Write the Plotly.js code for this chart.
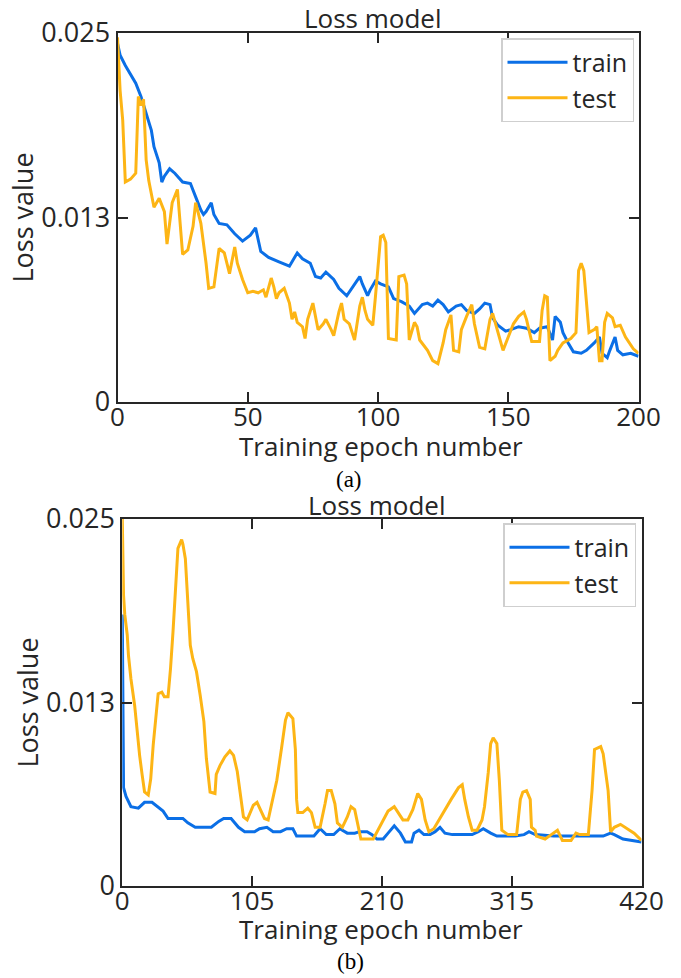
<!DOCTYPE html>
<html>
<head>
<meta charset="utf-8">
<script src="https://cdn.plot.ly/plotly-3.0.1.min.js"></script>
<style>
  html, body { margin: 0; padding: 0; background: #ffffff; }
  #chart { width: 681px; height: 978px; }
</style>
</head>
<body>
<div id="chart"></div>
<script>
// ---- (a) 200-epoch run ----
const epochsTrainA = [0,1,3,5,7,9,11,13,14,16,17,18,20,22,25,28,30,32,33,34,36,37,39,42,45,48,51,53,55,58,62,66,69,71,74,76,78,80,83,85,88,91,93,94,96,97,99,101,104,106,109,112,114,117,119,121,123,125,127,130,132,134,137,139,141,143,144,146,149,151,154,157,160,162,165,167,168,170,171,173,175,178,180,183,185,186,188,189,191,192,194,197,200];
const lossTrainA = [0.0243,0.0235,0.0228,0.0222,0.0216,0.0207,0.0196,0.0184,0.0173,0.0162,0.0149,0.0153,0.0158,0.0155,0.0149,0.0148,0.0139,0.0130,0.0127,0.0129,0.0135,0.0127,0.0121,0.0120,0.0114,0.0109,0.0113,0.0118,0.0102,0.0098,0.0095,0.0092,0.0101,0.0097,0.0094,0.0085,0.0084,0.0088,0.0083,0.0077,0.0072,0.0080,0.0085,0.0080,0.0072,0.0076,0.0082,0.0080,0.0078,0.0070,0.0068,0.0065,0.0060,0.0066,0.0067,0.0065,0.0069,0.0066,0.0061,0.0065,0.0066,0.0062,0.0060,0.0063,0.0067,0.0066,0.0057,0.0052,0.0048,0.0049,0.0051,0.0050,0.0047,0.0050,0.0051,0.0042,0.0058,0.0054,0.0047,0.0040,0.0034,0.0033,0.0035,0.0040,0.0044,0.0033,0.0030,0.0035,0.0044,0.0035,0.0032,0.0033,0.0031];

const epochsTestA = [0,1,2,3,5,7,8,9,10,11,12,14,16,18,19,20,21,23,24,25,27,29,30,32,34,35,37,39,41,42,43,45,46,48,50,52,54,56,57,59,60,61,62,64,66,67,68,69,71,72,73,75,76,77,79,80,82,83,85,86,87,89,91,93,94,95,96,98,99,101,102,103,104,107,108,110,111,112,114,115,116,119,121,123,125,126,128,129,131,132,134,136,137,139,141,143,144,146,148,150,152,154,156,157,158,159,162,163,164,165,166,168,169,171,174,176,177,178,179,181,183,184,185,186,187,188,190,191,193,195,198,200];
const lossTestA = [0.0247,0.0211,0.0191,0.0149,0.0151,0.0155,0.0207,0.0201,0.0205,0.0164,0.0150,0.0132,0.0138,0.0129,0.0107,0.0120,0.0135,0.0144,0.0123,0.0100,0.0103,0.0119,0.0135,0.0121,0.0094,0.0077,0.0078,0.0104,0.0101,0.0094,0.0087,0.0105,0.0094,0.0083,0.0074,0.0075,0.0074,0.0076,0.0071,0.0084,0.0078,0.0070,0.0074,0.0077,0.0067,0.0056,0.0061,0.0054,0.0051,0.0043,0.0056,0.0067,0.0059,0.0049,0.0053,0.0056,0.0049,0.0045,0.0061,0.0067,0.0056,0.0053,0.0042,0.0065,0.0071,0.0062,0.0056,0.0052,0.0071,0.0112,0.0113,0.0108,0.0043,0.0042,0.0085,0.0086,0.0080,0.0042,0.0054,0.0051,0.0042,0.0035,0.0028,0.0026,0.0040,0.0049,0.0059,0.0035,0.0034,0.0049,0.0058,0.0066,0.0053,0.0037,0.0036,0.0056,0.0060,0.0047,0.0035,0.0044,0.0053,0.0058,0.0061,0.0056,0.0049,0.0041,0.0041,0.0062,0.0072,0.0071,0.0028,0.0031,0.0035,0.0040,0.0043,0.0047,0.0089,0.0094,0.0089,0.0047,0.0049,0.0051,0.0028,0.0028,0.0054,0.0060,0.0057,0.0051,0.0052,0.0044,0.0036,0.0033];

// ---- (b) 420-epoch run ----
const epochsTrainB = [0,1,3,7,13,18,24,29,33,37,43,49,53,59,72,78,82,88,94,99,107,111,117,122,128,133,138,141,155,160,165,171,176,182,188,192,198,202,206,211,215,220,225,229,234,236,240,244,249,253,257,261,267,283,288,292,298,303,318,325,329,334,349,377,389,395,398,405,412,420];
const lossTrainB = [0.0185,0.0067,0.0061,0.0054,0.0053,0.0057,0.0057,0.0054,0.0051,0.0046,0.0046,0.0046,0.0043,0.0040,0.0040,0.0044,0.0046,0.0046,0.0040,0.0037,0.0037,0.0039,0.0040,0.0037,0.0037,0.0039,0.0039,0.0034,0.0034,0.0039,0.0035,0.0035,0.0039,0.0036,0.0036,0.0037,0.0037,0.0035,0.0032,0.0032,0.0036,0.0041,0.0036,0.0030,0.0030,0.0036,0.0038,0.0035,0.0035,0.0037,0.0040,0.0036,0.0035,0.0035,0.0037,0.0039,0.0036,0.0034,0.0034,0.0035,0.0037,0.0035,0.0034,0.0034,0.0034,0.0036,0.0035,0.0032,0.0031,0.0030];

const epochsTestB = [0,1,2,4,5,7,10,12,14,16,18,21,23,25,27,29,32,34,37,39,41,43,45,48,49,51,53,55,57,60,63,66,68,71,75,76,79,83,87,90,93,95,98,101,103,106,109,111,115,118,121,125,129,132,134,138,140,141,142,146,150,153,156,160,164,166,169,172,174,178,182,185,188,191,193,203,207,211,215,220,223,227,231,235,239,242,245,248,252,256,261,266,272,275,277,280,283,287,291,293,296,298,300,303,305,307,312,319,322,324,327,330,331,334,335,342,347,352,356,363,367,370,377,380,382,387,389,393,395,398,403,409,414,420];
const lossTestB = [0.0250,0.0198,0.0185,0.0171,0.0157,0.0141,0.0123,0.0105,0.0089,0.0076,0.0064,0.0062,0.0073,0.0096,0.0114,0.0131,0.0132,0.0129,0.0129,0.0148,0.0173,0.0203,0.0230,0.0236,0.0233,0.0223,0.0196,0.0164,0.0155,0.0146,0.0130,0.0112,0.0087,0.0064,0.0063,0.0076,0.0082,0.0088,0.0092,0.0089,0.0078,0.0064,0.0047,0.0045,0.0049,0.0055,0.0057,0.0053,0.0046,0.0045,0.0056,0.0072,0.0095,0.0113,0.0118,0.0114,0.0093,0.0059,0.0050,0.0050,0.0053,0.0050,0.0040,0.0040,0.0056,0.0065,0.0065,0.0056,0.0043,0.0040,0.0047,0.0054,0.0052,0.0040,0.0032,0.0032,0.0038,0.0045,0.0051,0.0054,0.0050,0.0045,0.0045,0.0052,0.0063,0.0059,0.0045,0.0037,0.0039,0.0045,0.0052,0.0059,0.0067,0.0069,0.0059,0.0047,0.0038,0.0038,0.0045,0.0054,0.0077,0.0097,0.0101,0.0097,0.0072,0.0038,0.0035,0.0035,0.0059,0.0064,0.0065,0.0059,0.0040,0.0038,0.0034,0.0032,0.0035,0.0038,0.0031,0.0031,0.0036,0.0035,0.0035,0.0065,0.0093,0.0095,0.0090,0.0065,0.0037,0.0040,0.0042,0.0039,0.0036,0.0031];

// ---- axis labels ----
const lossTicks = [0, 0.0125, 0.025];
const lossTickText = ['0', '0.013', '0.025'];
const epochTicksA = [0, 50, 100, 150, 200];
const epochTicksB = [0, 105, 210, 315, 420];
const seriesNames = ['train', 'test'];
const panelTitle = 'Loss model';
const epochTitle = 'Training epoch number';
const lossTitle = 'Loss value';

const W = 681, H = 978;
const BLUE = '#0b6fe6';
const GOLD = '#fdb515';
const INK = '#262626';
const FONT = 'Open Sans, sans-serif';
const SERIF = 'Liberation Serif, Times New Roman, serif';

const line = (c) => ({ color: c, width: 3, shape: 'linear' });

const traces = [
  { x: epochsTrainA, y: lossTrainA, name: seriesNames[0], mode: 'lines', line: line(BLUE), xaxis: 'x', yaxis: 'y', legend: 'legend' },
  { x: epochsTestA, y: lossTestA, name: seriesNames[1], mode: 'lines', line: line(GOLD), xaxis: 'x', yaxis: 'y', legend: 'legend' },
  { x: epochsTrainB, y: lossTrainB, name: seriesNames[0], mode: 'lines', line: line(BLUE), xaxis: 'x2', yaxis: 'y2', legend: 'legend2' },
  { x: epochsTestB, y: lossTestB, name: seriesNames[1], mode: 'lines', line: line(GOLD), xaxis: 'x2', yaxis: 'y2', legend: 'legend2' }
];

// pixel box -> paper domain
const dx = (l, r) => [l / W, r / W];
const dy = (t, b) => [1 - b / H, 1 - t / H];

const xAxisBase = (dom, ticks, range, anchor) => ({
  domain: dom, range: range, anchor: anchor,
  tickvals: ticks, ticktext: ticks.map(String),
  ticks: 'inside', ticklen: 10, tickwidth: 2, tickcolor: INK,
  ticklabelstandoff: -9,
  showline: true, linecolor: INK, linewidth: 2, mirror: 'ticks',
  showgrid: false, zeroline: false,
  tickfont: { family: FONT, size: 26, color: INK }
});

const yAxisBase = (dom, anchor) => ({
  domain: dom, range: [0, 0.025], anchor: anchor,
  tickvals: lossTicks, ticktext: lossTickText,
  ticks: 'inside', ticklen: 10, tickwidth: 2, tickcolor: INK,
  showline: true, linecolor: INK, linewidth: 2, mirror: 'ticks',
  showgrid: false, zeroline: false,
  tickfont: { family: FONT, size: 27, color: INK },
  title: { text: lossTitle, font: { family: FONT, size: 27, color: INK }, standoff: 0 }
});

const legendBase = (xr, yt) => ({
  x: xr / W, y: 1 - yt / H, xanchor: 'right', yanchor: 'top',
  bgcolor: '#ffffff', bordercolor: '#cfcfcf', borderwidth: 1.5,
  font: { family: FONT, size: 25, color: INK },
  itemwidth: 60, tracegroupgap: 0
});

// paper-anchored text placed in pixel coordinates
const label = (text, px, py, font) => ({
  text: text, x: px / W, y: 1 - py / H, xref: 'paper', yref: 'paper',
  xanchor: 'center', yanchor: 'middle', showarrow: false, borderpad: 0, font: font
});
const titleFont = { family: FONT, size: 26, color: INK };
const axisTitleFont = { family: FONT, size: 26, color: INK };
const capFont = { family: SERIF, size: 23, color: '#000000' };

const layout = {
  width: W, height: H,
  margin: { l: 0, r: 0, t: 0, b: 0 },
  paper_bgcolor: '#ffffff', plot_bgcolor: '#ffffff',
  showlegend: true,
  xaxis: xAxisBase(dx(117.5, 638.5), epochTicksA, [0, 200], 'y'),
  yaxis: yAxisBase(dy(33, 402), 'x'),
  xaxis2: xAxisBase(dx(122.3, 641.5), epochTicksB, [0, 420], 'y2'),
  yaxis2: yAxisBase(dy(519, 886), 'x2'),
  legend: legendBase(634, 38),
  legend2: legendBase(636, 523),
  annotations: [
    label(panelTitle, 373, 18, titleFont),
    label(panelTitle, 377, 505, titleFont),
    label(epochTitle, 381, 446, axisTitleFont),
    label(epochTitle, 381, 929, axisTitleFont),
    label('(a)', 349, 479, capFont),
    label('(b)', 350, 961, capFont)
  ]
};

Plotly.newPlot('chart', traces, layout, { staticPlot: true, displayModeBar: false });
</script>
</body>
</html>
